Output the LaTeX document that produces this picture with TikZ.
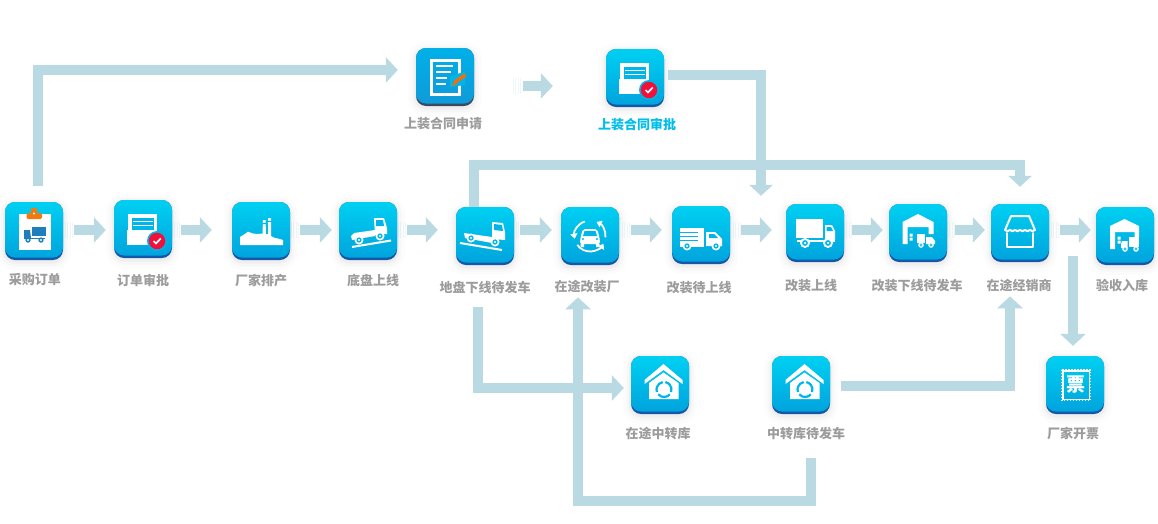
\documentclass[tikz,border=0pt]{standalone}
\usepackage{fontspec}
\setmainfont{Noto Sans CJK SC}
\usetikzlibrary{arrows.meta,calc}
\definecolor{flowc}{HTML}{B9D9E3}
\definecolor{lblc}{HTML}{9C9C9C}
\definecolor{lblh}{HTML}{00BDEB}
\definecolor{icontop}{HTML}{00D0F2}
\definecolor{iconbot}{HTML}{00A2DC}
\definecolor{iconmid}{HTML}{00B6E8}
\definecolor{iconedge}{HTML}{1558A8}
\definecolor{icdtop}{HTML}{00B0E8}
\definecolor{icdbot}{HTML}{109AD8}
\definecolor{icdedge}{HTML}{3A4A62}
\definecolor{orng}{HTML}{F07A10}
\definecolor{badgered}{HTML}{F0103C}
\definecolor{truckblue}{HTML}{1E7FBC}
\tikzset{
  iconframe/.style n args={3}{
    rectangle,minimum size=58pt,inner sep=0pt,rounded corners=10pt,fill=#3,
    preaction={draw=black,draw opacity=.012,line width=16pt,transform canvas={yshift=-2pt}},
    preaction={draw=black,draw opacity=.018,line width=9pt,transform canvas={yshift=-2pt}},
    preaction={draw=black,draw opacity=.03,line width=4pt,transform canvas={yshift=-1.5pt}},
    path picture={\shade[top color=#1,bottom color=#2,rounded corners=10pt]
      (path picture bounding box.north west) rectangle ([yshift=2.5pt]path picture bounding box.south east);}},
  icon/.style={iconframe={icontop}{iconbot}{iconedge}},
  icondark/.style={iconframe={icdtop}{icdbot}{icdedge}},
  lbl/.style={font=\fontsize{13}{15}\selectfont\bfseries,text=lblc,inner sep=0pt,yshift=-.8pt},
  lblhot/.style={lbl,text=lblh},
  flow/.style={draw=flowc,line width=10pt,-{Triangle[length=12pt,width=25pt,fill=flowc]}},
  flowhead/.style={draw=flowc,line width=10pt,-{Triangle[length=11pt,width=23pt,fill=flowc]}},
  stripe/.style={draw=flowc!22,line width=.9pt},
  glyph/.style={fill=white,draw=none},
  gline/.style={draw=white,line width=2pt,line cap=round,line join=round}
}
\newcommand\wheelat[3]{\fill[white] (#1,#2) circle (#3pt);\fill[iconmid] (#1,#2) circle (.58*#3pt);\fill[white] (#1,#2) circle (.25*#3pt);}
\newcommand\checkbadge[2]{\fill[iconmid] (#1,#2) circle (10pt);\fill[badgered] (#1,#2) circle (8.3pt);
  \draw[white,line width=1.7pt] ($(#1,#2)+(-3.5,0)$) -- ($(#1,#2)+(-1,2.5)$) -- ($(#1,#2)+(3.8,-2.6)$);}
\newcommand\docicon{%
  \fill[white] (-15,-15) rectangle (14,6);
  \fill[iconmid] (-11,-11) rectangle (11,0);
  \draw[white,line width=1.2pt] (-10,-7.3) -- (10,-7.3) (-10,-3.8) -- (10,-3.8);
  \fill[white] (-16,1) rectangle (14,16);
  \fill[iconmid] (-11,0) rectangle (11,.8);
  \checkbadge{14}{12}}
\newcommand\houseicon{%
  \fill[glyph] (-15.5,-5) -- (3.5,-21) -- (22.5,-5) -- (22.5,-1) -- (3.5,-15) -- (-15.5,-1) -- cycle;
  \fill[glyph] (-11,-2) -- (3.5,-12.5) -- (18.5,-2) -- (18.5,14) -- (-11,14) -- cycle;
  \begin{scope}[shift={(4,4.5)}]
    \draw[iconmid,line width=2.2pt] (100:7.5pt) arc[start angle=100,end angle=200,radius=7.5pt];
    \draw[iconmid,line width=2.2pt] (220:7.5pt) arc[start angle=220,end angle=320,radius=7.5pt];
    \draw[iconmid,line width=2.2pt] (340:7.5pt) arc[start angle=340,end angle=440,radius=7.5pt];
  \end{scope}}
\begin{document}
\begin{tikzpicture}[x=1pt,y=-1pt]
\useasboundingbox (0,0) rectangle (1158,523);
\fill[white] (0,0) rectangle (1158,523);
\coordinate (lane) at (0,230);
% pale stripes before the arrows
\foreach \sx in {65,172,291,398,511,622,733,844,947,1051,513}{
  \pgfmathsetmacro\sy{\sx==513?86:230}
  \foreach \d in {0,2.5,5,7.5}
    \draw[stripe] (\sx+\d,\sy-8) -- (\sx+\d,\sy+8);}
% ---------- icons
\node[icon] (n1) at (34,231) {};
\node[icon] (n2) at (143,229) {};
\node[icon] (n3) at (261,231) {};
\node[icon] (n4) at (368,231) {};
\node[icon] (n5) at (485,236) {};
\node[icon] (n6) at (590,236) {};
\node[icon] (n7) at (701,235) {};
\node[icon] (n8) at (815,233) {};
\node[icon] (n9) at (918,233) {};
\node[icon] (n10) at (1020,233) {};
\node[icon] (n11) at (1125,236) {};
\node[icondark] (u1) at (445,77) {};
\node[icon] (u2) at (635,78) {};
\node[icon] (d1) at (660,385) {};
\node[icon] (d2) at (801,385) {};
\node[icon] (d3) at (1075,385) {};
% ---------- labels
\node[lbl] (t1) at (35,279) {采购订单};
\node[lbl] (t2) at (143,280) {订单审批};
\node[lbl] (t3) at (261,280) {厂家排产};
\node[lbl] (t4) at (373,280) {底盘上线};
\node[lbl] (t5) at (485,287) {地盘下线待发车};
\node[lbl] (t6) at (587,286) {在途改装厂};
\node[lbl] (t7) at (699,287) {改装待上线};
\node[lbl] (t8) at (811,285) {改装上线};
\node[lbl] (t9) at (917,285) {改装下线待发车};
\node[lbl] (t10) at (1019,285) {在途经销商};
\node[lbl] (t11) at (1122,285) {验收入库};
\node[lbl] (tu1) at (443,123) {上装合同申请};
\node[lblhot] (tu2) at (637,124) {上装合同审批};
\node[lbl] (td1) at (658,433) {在途中转库};
\node[lbl] (td2) at (806,433) {中转库待发车};
\node[lbl] (td3) at (1073,433) {厂家开票};
\coordinate (backlane) at (578,501);
% ---------- chain arrows
\draw[flow,shorten <=11pt,shorten >=8pt] (n1.east |- lane) -- (n2.west |- lane);
\draw[flow,shorten <=9pt,shorten >=20pt] (n2.east |- lane) -- (n3.west |- lane);
\draw[flow,shorten <=10pt,shorten >=7pt] (n3.east |- lane) -- (n4.west |- lane);
\draw[flow,shorten <=10pt,shorten >=18pt] (n4.east |- lane) -- (n5.west |- lane);
\draw[flow,shorten <=6pt,shorten >=9pt] (n5.east |- lane) -- (n6.west |- lane);
\draw[flow,shorten <=12pt,shorten >=10pt] (n6.east |- lane) -- (n7.west |- lane);
\draw[flow,shorten <=11pt,shorten >=14pt] (n7.east |- lane) -- (n8.west |- lane);
\draw[flow,shorten <=8pt,shorten >=6pt] (n8.east |- lane) -- (n9.west |- lane);
\draw[flow,shorten <=8pt,shorten >=6pt] (n9.east |- lane) -- (n10.west |- lane);
\draw[flow,shorten <=11pt,shorten >=5pt] (n10.east |- lane) -- (n11.west |- lane);
\coordinate (ua) at ([yshift=-9pt]u1.east);
\draw[flow,shorten <=49pt,shorten >=53pt] (u1.east |- ua) -- (u2.west |- ua);
% ---------- routed arrows
\draw[flow] ([xshift=4pt,yshift=16pt]n1.north) |- ([xshift=-18pt,yshift=7pt]u1.west);
\draw[flowhead] ([xshift=4pt,yshift=3pt]u2.east) -| ([xshift=-54pt,yshift=8pt]n8.north);
\draw[flowhead] ([xshift=-11pt]n5.north) |- ([yshift=42pt]n5.north -| n10.north) -- ([yshift=17pt]n10.north);
\draw[flow] ([xshift=-7pt,yshift=-13pt]t5.south) |- ([xshift=-7pt,yshift=-3pt]d1.west);
\draw[flow] ([xshift=5pt,yshift=-18pt]td2.south) |- (backlane) -- ([xshift=-9pt,yshift=-4pt]t6.south);
\draw[flow] ([xshift=11pt,yshift=-1pt]d2.east) -| ([xshift=-9pt,yshift=-4pt]t10.south);
\draw[flow] ([xshift=-2pt,yshift=100pt]d3.north) -- ([xshift=-2pt,yshift=10pt]d3.north);
% ---------- icon 1: clipboard
\begin{scope}[shift={(n1)}]
  \fill[white] (-15,-17) rectangle (17,19);
  \fill[orng,rounded corners=1.5pt] (-7.5,-18) rectangle (8,-12);
  \fill[orng] (-3,-23) rectangle (3,-17);
  \fill[white] (0,-17.5) circle (1.2pt);
  \fill[truckblue] (-2,-4.5) rectangle (12,5);
  \fill[truckblue] (-10,-1) -- (-4,-1) -- (-3,7) -- (-10,7) -- cycle;
  \draw[truckblue,line width=1pt] (-10,7.5) -- (11,7.5);
  \fill[truckblue] (-6,9) circle (2.7pt) (7,9) circle (2.7pt);
  \fill[white] (-6,9) circle (1.1pt) (7,9) circle (1.1pt);
\end{scope}
% ---------- icon 2, 13: document with check
\begin{scope}[shift={(n2)}]\docicon\end{scope}
\begin{scope}[shift={(u2)}]\docicon\end{scope}
% ---------- icon 3: factory
\begin{scope}[shift={(n3)}]
  \fill[glyph] (-21,14) -- (-21,6) -- (-17,3.5) -- (-13,.7) -- (-8,2.5) -- (-3,3) -- (1.5,2.5) -- (2,-11) -- (4.5,-11) -- (5,3) -- (7,3)
     -- (7,-13) -- (10,-13) -- (10,5) -- (14,7) -- (17,7.5) -- (22,9) -- (22,14) -- cycle;
  \draw[iconmid,line width=.8pt] (1.5,-7.5) -- (5,-7.5) (7,-9.5) -- (10.5,-9.5);
\end{scope}
% ---------- icon 4: truck climbing
\begin{scope}[shift={(n4)}]
  \fill[glyph] (6,-13) -- (16,-13) -- (19,-3) -- (19,3) -- (7,4) -- cycle;
  \fill[iconmid] (8,-11) -- (15,-11) -- (16,-5) -- (8,-5) -- cycle;
  \fill[glyph] (-17,5) -- (-14,2) -- (7,-1) -- (7,5) -- (-16,9) -- cycle;
  \wheelat{-9}{9}{4.5}\wheelat{12}{5}{4.5}
  \draw[white,line width=2pt] (-16,16) -- (23,9.5);
\end{scope}
% ---------- icon 5: truck going down
\begin{scope}[shift={(n5)}]
  \fill[glyph] (7,-14) -- (18,-13) -- (20,-4) -- (20,4) -- (7,3) -- cycle;
  \fill[iconmid] (9,-12) -- (17,-11) -- (18,-5) -- (9,-6) -- cycle;
  \fill[glyph] (-21,-3) -- (7,1) -- (7,7) -- (-20,2) -- cycle;
  \wheelat{-14}{2}{4.5}\wheelat{10}{6}{4.5}
  \draw[white,line width=2pt] (-25,7) -- (17,14);
\end{scope}
% ---------- icon 6: car and circular arrows
\begin{scope}[shift={(n6)}]
  \begin{scope}[line width=1.8pt,white]
    \draw[-{Triangle[length=5pt,width=7pt]}] (-5:15.5pt) arc[start angle=-5,end angle=65,radius=15.5pt];
    \draw[-{Triangle[length=5pt,width=7pt]}] (110:15.5pt) arc[start angle=110,end angle=190,radius=15.5pt];
    \draw[-{Triangle[length=5pt,width=7pt]}] (215:15.5pt) arc[start angle=215,end angle=330,radius=15.5pt];
  \end{scope}
  \fill[white,rounded corners=2pt] (-7,-7) -- (7,-7) -- (9.5,1) -- (10,8) -- (-10,8) -- (-9.5,1) -- cycle;
  \fill[iconmid] (-5.5,-5) -- (5.5,-5) -- (7,0) -- (-7,0) -- cycle;
  \fill[iconmid] (-7,3) circle (1.2pt) (7,3) circle (1.2pt);
  \fill[white] (-9.5,8) rectangle (-6,11) (6,8) rectangle (9.5,11);
\end{scope}
% ---------- icon 7: striped truck
\begin{scope}[shift={(n7)}]
  \fill[glyph] (-21,-7) rectangle (3,12);
  \foreach \yy in {-3,1,5}{\fill[iconmid] (-21,\yy) rectangle (-3,\yy+1.4);}
  \fill[glyph] (5,-3) -- (14,-3) -- (21,4) -- (21,11) -- (5,11) -- cycle;
  \fill[iconmid] (8,-1) -- (13,-1) -- (17,3) -- (8,3) -- cycle;
  \wheelat{-14}{11}{4.5}\wheelat{15}{11}{4.5}
\end{scope}
% ---------- icon 8: truck
\begin{scope}[shift={(n8)}]
  \fill[glyph] (-19,-14) rectangle (8,5);
  \fill[glyph] (10,-8) -- (17,-8) -- (20,-2) -- (20,7) -- (10,7) -- cycle;
  \fill[iconmid] (11.5,-6) -- (16,-6) -- (18,-2) -- (11.5,-2) -- cycle;
  \fill[glyph] (-18,6.5) rectangle (20,8.5);
  \wheelat{-10}{10}{5}\wheelat{13}{10}{5}
\end{scope}
% ---------- icon 9: warehouse and truck
\begin{scope}[shift={(n9)}]
  \fill[glyph] (-15.5,-11) -- (0,-19) -- (15.5,-11) -- (15.5,1) -- (10.5,1) -- (10.5,-6) -- (-10.5,-6) -- (-10.5,11) -- (-15.5,11) -- cycle;
  \fill[white] (-8.5,.5) rectangle (-5.5,3.5) (-8.5,4.5) rectangle (-5.5,7.5);
  \fill[glyph] (-1.5,1) rectangle (7,10);
  \fill[glyph] (8,4) -- (14,4) -- (17,8) -- (17,11) -- (8,11) -- cycle;
  \wheelat{3}{12}{2.8}\wheelat{13}{12}{2.8}
\end{scope}
% ---------- icon 10: shop
\begin{scope}[shift={(n10)}]
  \draw[gline] (-9,-17) -- (9,-17) -- (15,-3) (-9,-17) -- (-15,-3);
  \draw[gline] (-15,-3) to[bend right=50] (-10,-3) to[bend right=50] (-5,-3) to[bend right=50] (0,-3) to[bend right=50] (5,-3) to[bend right=50] (10,-3) to[bend right=50] (15,-3);
  \draw[gline] (-13,0) -- (-13,14) -- (13,14) -- (13,0);
\end{scope}
% ---------- icon 11: warehouse and truck
\begin{scope}[shift={(n11)}]
  \fill[glyph] (-15,-10) -- (-.5,-17) -- (14,-10) -- (14,1) -- (9.5,1) -- (9.5,-4) -- (-10,-4) -- (-10,13) -- (-15,13) -- cycle;
  \fill[white] (-7.5,.5) rectangle (-4.5,3.5) (-7.5,4.5) rectangle (-4.5,7.5);
  \fill[glyph] (4,1) rectangle (14,11);
  \fill[glyph] (-3,5) -- (2.5,5) -- (2.5,12) -- (-4,12) -- (-4,8) -- cycle;
  \wheelat{0}{13}{2.8}\wheelat{11}{13}{2.8}
\end{scope}
% ---------- icon 12: form and pencil
\begin{scope}[shift={(u1)}]
  \draw[white,line width=2.4pt] (-13.5,-16.5) rectangle (14.5,17.5);
  \draw[white,line width=2pt] (-9,-11.5) -- (8,-11.5) (-9,-5) -- (6,-5) (-9,1) -- (2,1) (-9,6.5) -- (1,6.5);
  \fill[iconmid] (5,0) -- (20,-6) -- (20,8) -- (5,10) -- cycle;
  \draw[orng!90!red,line width=3.6pt] (20.5,-2.3) -- (9.5,5.5);
  \fill[orng!90!red] (10.6,3.5) -- (11.8,7.3) -- (6,9) -- cycle;
\end{scope}
% ---------- icons 14, 15: house
\begin{scope}[shift={(d1)}]\houseicon\end{scope}
\begin{scope}[shift={(d2)}]\houseicon\end{scope}
% ---------- icon 16: invoice stamp
\begin{scope}[shift={(d3)}]
  \draw[white,line width=1.2pt,dash pattern=on 1.5pt off 1.5pt] (-13.4,-15.4) rectangle (15.4,15.4);
  \draw[white,line width=1.4pt] (-12.2,-14.2) rectangle (14.2,14.2);
  \node[font=\fontsize{19}{19}\selectfont\bfseries,text=white,inner sep=0pt] (piao) at (1,0) {票};
\end{scope}
\end{tikzpicture}
\end{document}
